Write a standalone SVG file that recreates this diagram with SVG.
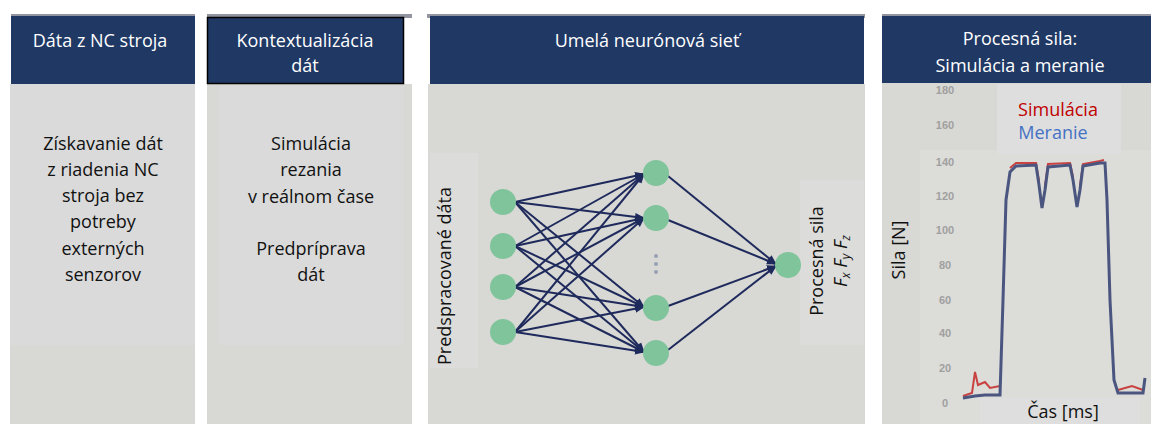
<svg xmlns="http://www.w3.org/2000/svg" width="1151" height="424" viewBox="0 0 1151 424">
<style>
.hdr{fill:#203864}
.shadow{fill:#4a4e60;opacity:0.6}
.body{fill:#d8d8d4}
.inner{fill:#dadada}
.ht{font-family:"Open Sans","Liberation Sans",Arial,sans-serif;font-size:18px;fill:#ffffff;text-anchor:middle}
.bt{font-family:"Open Sans","Liberation Sans",Arial,sans-serif;font-size:18px;fill:#111111;text-anchor:middle}
.ax{font-family:"Liberation Sans",Arial,sans-serif;font-size:11px;fill:#a0a0a0;text-anchor:middle;font-weight:bold}
.node{fill:#80c49c}
.edge{stroke:#1f2a5c;stroke-width:2;fill:none;marker-end:url(#ah)}
</style>
<defs>
<marker id="ah" viewBox="0 0 10 10" refX="9" refY="5" markerWidth="5" markerHeight="5" orient="auto" markerUnits="strokeWidth">
<path d="M0,1 L10,5 L0,9 z" fill="#1f2a5c"/>
</marker>
</defs>
<rect width="1151" height="424" fill="#ffffff"/>

<g id="panel1">
<rect class="shadow" x="11" y="14" width="184" height="4"/>
<rect class="body" x="10" y="84" width="185" height="340"/>
<rect class="inner" x="10" y="84" width="185" height="261"/>
<rect class="hdr" x="11" y="16" width="184" height="68"/>
<text class="ht" x="100" y="47">Dáta z NC stroja</text>
<text class="bt" x="103" y="150">Získavanie dát</text>
<text class="bt" x="103" y="176">z riadenia NC</text>
<text class="bt" x="103" y="202">stroja bez</text>
<text class="bt" x="103" y="228">potreby</text>
<text class="bt" x="103" y="255">externých</text>
<text class="bt" x="103" y="281">senzorov</text>
</g>

<g id="panel2">
<rect class="shadow" x="207" y="14" width="205" height="4"/>
<rect class="body" x="207" y="84" width="205" height="340"/>
<rect class="inner" x="219" y="86" width="185" height="259"/>
<rect class="hdr" x="207.5" y="17.5" width="196" height="66" stroke="#000000" stroke-width="1.5"/>
<text class="ht" x="305" y="47">Kontextualizácia</text>
<text class="ht" x="305" y="72">dát</text>
<text class="bt" x="311" y="150">Simulácia</text>
<text class="bt" x="311" y="176">rezania</text>
<text class="bt" x="311" y="203">v reálnom čase</text>
<text class="bt" x="311" y="255">Predpríprava</text>
<text class="bt" x="311" y="281">dát</text>
</g>

<g id="panel3">
<rect class="shadow" x="427" y="14" width="438" height="4"/>
<rect class="body" x="428" y="84" width="437" height="340"/>
<rect class="hdr" x="430" y="16" width="434" height="68"/>
<text class="ht" x="647" y="47">Umelá neurónová sieť</text>
<rect x="430" y="153" width="48" height="215" fill="#dcdcda"/>
<text class="bt" transform="translate(451,276) rotate(-90)">Predspracované dáta</text>
<rect x="800" y="180" width="64" height="165" fill="#dcdcda"/>
<text class="bt" transform="translate(823,261) rotate(-90)">Procesná sila</text>
<text class="bt" font-style="italic" transform="translate(847,261) rotate(-90)">F<tspan font-size="12" dy="3">x</tspan><tspan dy="-3"> F</tspan><tspan font-size="12" dy="3">y</tspan><tspan dy="-3"> F</tspan><tspan font-size="12" dy="3">z</tspan></text>
</g>

<g id="connectors">
<line class="edge" x1="515" y1="202" x2="644" y2="174"/>
<line class="edge" x1="515" y1="202" x2="644" y2="218"/>
<line class="edge" x1="515" y1="202" x2="644" y2="307"/>
<line class="edge" x1="515" y1="202" x2="644" y2="352"/>
<line class="edge" x1="515" y1="246" x2="644" y2="174"/>
<line class="edge" x1="515" y1="246" x2="644" y2="218"/>
<line class="edge" x1="515" y1="246" x2="644" y2="307"/>
<line class="edge" x1="515" y1="246" x2="644" y2="352"/>
<line class="edge" x1="515" y1="287" x2="644" y2="174"/>
<line class="edge" x1="515" y1="287" x2="644" y2="218"/>
<line class="edge" x1="515" y1="287" x2="644" y2="307"/>
<line class="edge" x1="515" y1="287" x2="644" y2="352"/>
<line class="edge" x1="515" y1="332" x2="644" y2="174"/>
<line class="edge" x1="515" y1="332" x2="644" y2="218"/>
<line class="edge" x1="515" y1="332" x2="644" y2="307"/>
<line class="edge" x1="515" y1="332" x2="644" y2="352"/>
<line class="edge" x1="668" y1="176" x2="776" y2="264"/>
<line class="edge" x1="668" y1="220" x2="776" y2="264"/>
<line class="edge" x1="668" y1="306" x2="776" y2="266"/>
<line class="edge" x1="668" y1="350" x2="776" y2="266"/>
</g>

<g id="nn-nodes">
<circle class="node" cx="503" cy="202" r="13"/>
<circle class="node" cx="503" cy="246" r="13"/>
<circle class="node" cx="503" cy="287" r="13"/>
<circle class="node" cx="503" cy="332" r="13"/>
<circle class="node" cx="656" cy="173" r="13"/>
<circle class="node" cx="656" cy="218" r="13"/>
<circle class="node" cx="656" cy="308" r="13"/>
<circle class="node" cx="656" cy="353" r="13"/>
<circle class="node" cx="788" cy="265" r="13"/>
<circle cx="656" cy="256" r="2" fill="#9aa0b4"/>
<circle cx="656" cy="264" r="2" fill="#9aa0b4"/>
<circle cx="656" cy="272" r="2" fill="#9aa0b4"/>
</g>

<g id="panel4">
<rect class="shadow" x="882" y="14" width="269" height="4"/>
<rect class="body" x="882" y="83" width="269" height="341"/>
<rect x="920" y="150" width="231" height="274" fill="#dcdcd8"/>
<rect class="hdr" x="882" y="16" width="269" height="67"/>
<text class="ht" x="1020" y="45">Procesná sila:</text>
<text class="ht" x="1020" y="72">Simulácia a meranie</text>
<rect x="997" y="84" width="124" height="70" fill="#dedede"/>
<text class="bt" x="1058" y="116" style="fill:#c00000">Simulácia</text>
<text class="bt" x="1053" y="139" style="fill:#4472c4">Meranie</text>
<text class="ax" x="945" y="94">180</text>
<text class="ax" x="945" y="129">160</text>
<text class="ax" x="945" y="166">140</text>
<text class="ax" x="945" y="200">120</text>
<text class="ax" x="945" y="234">100</text>
<text class="ax" x="945" y="269">80</text>
<text class="ax" x="945" y="304">60</text>
<text class="ax" x="945" y="337">40</text>
<text class="ax" x="945" y="372">20</text>
<text class="ax" x="945" y="407">0</text>
<text class="bt" transform="translate(905,250) rotate(-90)">Sila [N]</text>
<rect x="980" y="398" width="160" height="26" fill="#dedede"/>
<text class="bt" x="1063" y="418">Čas [ms]</text>
<path d="M963,396 L972,393 L975,372 L978,385 L985,382 L990,388 L1000,386 M1010,168 L1016,163 L1036,163 L1039,181 M1045,186 L1048,164 L1070,163 L1073,177 M1080,186 L1083,164 L1100,161 L1104,160 M1118,390 L1125,388 L1132,386 L1143,390" fill="none" stroke="#c00000" stroke-width="2" opacity="0.7"/>
<path d="M963,398 L975,396 L985,395 L1000,395 L1003,300 L1006,200 L1010,172 L1016,166 L1036,165 L1039,185 L1042,208 L1045,190 L1048,167 L1070,165 L1073,180 L1077,207 L1080,190 L1083,166 L1100,163 L1105,163 L1107,200 L1110,300 L1114,380 L1118,393 L1143,393 L1145,378" fill="none" stroke="#4a5580" stroke-width="3"/>
</g>
</svg>
